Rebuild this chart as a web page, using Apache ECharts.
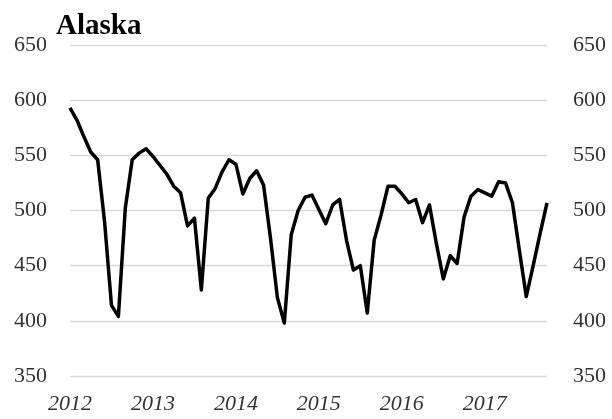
<!DOCTYPE html>
<html>
<head>
<meta charset="utf-8">
<script src="https://cdn.jsdelivr.net/npm/echarts@6/dist/echarts.min.js"></script>
<style>html,body{margin:0;padding:0;background:#fff;}#c{width:612px;height:419px;}</style>
</head>
<body>
<div id="c"></div>
<script>
const titleText = "Alaska";
const years = ["2012", "2013", "2014", "2015", "2016", "2017"];
const months = ["01","02","03","04","05","06","07","08","09","10","11","12"];
// monthly values Jan 2012 .. Oct 2017
const values = [
  593, 582, 567, 553, 546, 490, 414, 404, 502, 546, 552, 556,
  549, 541, 533, 522, 516, 486, 493, 428, 511, 520, 535, 546,
  542, 515, 529, 536, 523, 475, 421, 398, 478, 500, 512, 514,
  501, 488, 505, 510, 473, 446, 450, 407, 473, 496, 522, 522,
  515, 507, 510, 489, 505, 470, 438, 459, 452, 494, 513, 519,
  516, 513, 526, 525, 507, 464, 422, 450, 479, 507
];
const yTicks = [350, 400, 450, 500, 550, 600, 650];

const categories = [];
for (let i = 0; i < values.length; i++) {
  categories.push(years[Math.floor(i / 12)] + "-" + months[i % 12]);
}

const chart = echarts.init(document.getElementById('c'));
const labelFont = { fontFamily: "Liberation Serif", fontSize: 22, color: "#333333" };
chart.setOption({
  animation: false,
  backgroundColor: "#fff",
  title: {
    text: titleText,
    left: 51, top: 7,
    textStyle: { fontFamily: "Liberation Serif", fontWeight: "bold", fontSize: 29, color: "#000" }
  },
  grid: { left: 70, right: 65, top: 45, bottom: 43, containLabel: false },
  xAxis: {
    type: "category",
    data: categories,
    boundaryGap: false,
    axisLine: { show: false },
    axisTick: { show: false },
    splitLine: { show: false },
    axisLabel: Object.assign({}, labelFont, {
      fontStyle: "italic",
      margin: 17,
      interval: function (index) { return index % 12 === 0; },
      formatter: function (v) { return v.slice(0, 4); }
    })
  },
  yAxis: [
    {
      type: "value", min: yTicks[0], max: yTicks[yTicks.length - 1], interval: 50,
      position: "left",
      axisLine: { show: false }, axisTick: { show: false },
      splitLine: { show: true, lineStyle: { color: "#d9d9d9", width: 1.3 } },
      axisLabel: Object.assign({}, labelFont, { margin: 23 })
    },
    {
      type: "value", min: yTicks[0], max: yTicks[yTicks.length - 1], interval: 50,
      position: "right",
      axisLine: { show: false }, axisTick: { show: false },
      splitLine: { show: false },
      axisLabel: Object.assign({}, labelFont, { margin: 26 })
    }
  ],
  series: [{
    type: "line",
    data: values,
    yAxisIndex: 0,
    showSymbol: false,
    symbol: "none",
    lineStyle: { color: "#000", width: 3.5, join: "round" },
    itemStyle: { color: "#000" }
  }]
});
</script>
</body>
</html>
